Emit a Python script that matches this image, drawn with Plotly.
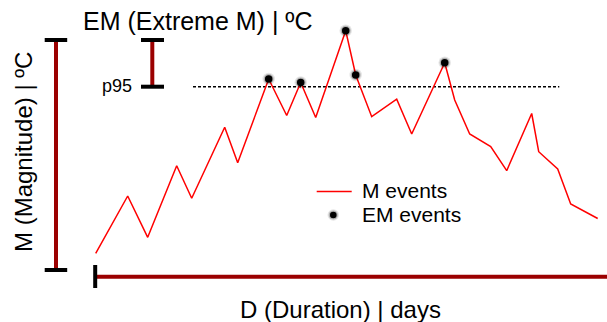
import plotly.graph_objects as go

# ---- data (schematic values) ----
days = [0.0, 3.2, 5.2, 8.1, 9.6, 12.9, 14.2, 17.3, 19.1, 20.5, 22.0, 25.0, 26.0,
        27.6, 30.1, 31.6, 34.9, 35.9, 37.4, 39.5, 41.1, 43.6, 44.3, 46.2, 47.5, 50.2]
magnitude = [1.67, 7.4, 3.27, 10.43, 7.17, 14.27, 10.73, 19.1, 15.45, 18.75, 15.25,
             23.93, 19.5, 15.33, 17.08, 13.6, 20.73, 17.0, 13.6, 12.35, 9.93, 15.65,
             11.83, 10.1, 6.6, 5.15]
p95 = 18.33
em_max = 23.0
m_axis_max = 23.0
series_labels = ["M events", "EM events"]
axis_titles = ["EM (Extreme M) | ºC", "M (Magnitude) | ºC", "D (Duration) | days", "p95"]

em_days = [d for d, m in zip(days, magnitude) if m > p95]
em_vals = [m for m in magnitude if m > p95]

W, H = 607, 322
FONT = "Liberation Sans, Arial, sans-serif"
DARK_RED = "#9B0000"

fig = go.Figure()
fig.add_trace(go.Scatter(x=days, y=magnitude, mode="lines",
                         line=dict(color="#FF0000", width=1.5), name=series_labels[0]))
# soft halo layers
for sz, col in ((12.5, "rgba(0,0,0,0.10)"), (10, "rgba(0,0,0,0.22)")):
    fig.add_trace(go.Scatter(x=em_days, y=em_vals, mode="markers",
                             marker=dict(size=sz, color=col, line=dict(width=0)),
                             hoverinfo="skip"))
fig.add_trace(go.Scatter(x=em_days, y=em_vals, mode="markers",
                         marker=dict(size=7.5, color="black", line=dict(width=0)),
                         name=series_labels[1]))

def px(x):
    return x / W

def py(y):
    return 1 - y / H

shapes = []
# p95 dotted line
shapes.append(dict(type="line", xref="x", yref="y", x0=9.73, x1=46.36, y0=p95, y1=p95,
                   line=dict(color="black", width=1.5, dash="3px,2px"), layer="below"))
# Magnitude bar
shapes.append(dict(type="line", xref="x", yref="y", x0=-3.97, x1=-3.97, y0=0, y1=m_axis_max,
                   line=dict(color=DARK_RED, width=4)))
for yy in (0, m_axis_max):
    shapes.append(dict(type="line", xref="x", yref="y", x0=-5.1, x1=-2.85, y0=yy, y1=yy,
                       line=dict(color="black", width=4)))
# EM bar
shapes.append(dict(type="line", xref="x", yref="y", x0=5.66, x1=5.66, y0=p95, y1=em_max,
                   line=dict(color=DARK_RED, width=4)))
for yy in (p95, em_max):
    shapes.append(dict(type="line", xref="x", yref="y", x0=4.53, x1=6.83, y0=yy, y1=yy,
                       line=dict(color="black", width=4)))
# Duration bar
shapes.append(dict(type="line", xref="x", yref="y", x0=0, x1=52, y0=-0.67, y1=-0.67,
                   line=dict(color=DARK_RED, width=4)))
shapes.append(dict(type="line", xref="x", yref="y", x0=-0.05, x1=-0.05, y0=0.5, y1=-1.8,
                   line=dict(color="black", width=4)))
# legend symbols
shapes.append(dict(type="line", xref="paper", yref="paper", x0=px(316.7), x1=px(351.7),
                   y0=py(191.5), y1=py(191.5), line=dict(color="#FF0000", width=1.5)))
shapes.append(dict(type="circle", xref="paper", yref="paper", x0=px(327.5), x1=px(339.1),
                   y0=py(209.2), y1=py(220.8), fillcolor="rgba(0,0,0,0.10)", line=dict(width=0)))
shapes.append(dict(type="circle", xref="paper", yref="paper", x0=px(328.7), x1=px(337.9),
                   y0=py(210.4), y1=py(219.6), fillcolor="rgba(0,0,0,0.22)", line=dict(width=0)))
shapes.append(dict(type="circle", xref="paper", yref="paper", x0=px(330), x1=px(336.6),
                   y0=py(211.7), y1=py(218.3), fillcolor="black", line=dict(width=0)))

annotations = [
    dict(text=axis_titles[0], x=px(197.5), y=py(21), xref="paper", yref="paper",
         showarrow=False, xanchor="center", yanchor="middle", font=dict(size=25)),
    dict(text=axis_titles[1], x=px(23.5), y=py(152.5), xref="paper", yref="paper",
         showarrow=False, xanchor="center", yanchor="middle", textangle=-90, font=dict(size=24)),
    dict(text=axis_titles[2], x=px(340), y=py(309), xref="paper", yref="paper",
         showarrow=False, xanchor="center", yanchor="middle", font=dict(size=24)),
    dict(text=axis_titles[3], x=px(116.7), y=py(86.5), xref="paper", yref="paper",
         showarrow=False, xanchor="center", yanchor="middle", font=dict(size=18)),
    dict(text=series_labels[0], x=px(360), y=py(190.5), xref="paper", yref="paper",
         showarrow=False, xanchor="left", yanchor="middle", font=dict(size=21)),
    dict(text=series_labels[1], x=px(360), y=py(214), xref="paper", yref="paper",
         showarrow=False, xanchor="left", yanchor="middle", font=dict(size=21)),
]

fig.update_layout(
    width=W, height=H, margin=dict(l=0, r=0, t=0, b=0, pad=0),
    paper_bgcolor="white", plot_bgcolor="white", showlegend=False,
    font=dict(family=FONT, color="black"),
    xaxis=dict(visible=False, range=[-9.57, 51.13], fixedrange=True),
    yaxis=dict(visible=False, range=[-5.2, 27], fixedrange=True),
    shapes=shapes, annotations=annotations,
)
fig.write_html("out.html", config={"displayModeBar": False})
